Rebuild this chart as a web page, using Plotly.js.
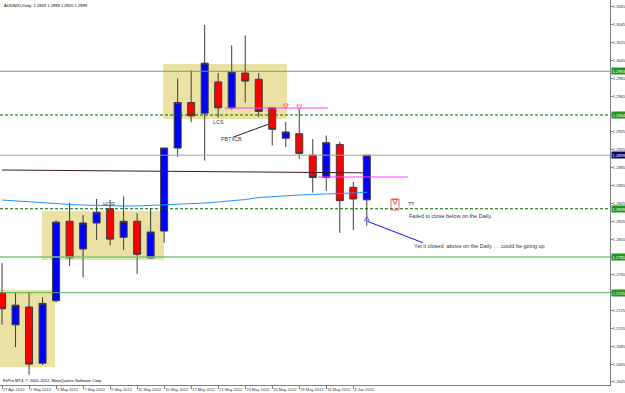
<!DOCTYPE html>
<html><head><meta charset="utf-8">
<script src="https://cdn.plot.ly/plotly-3.0.1.min.js"></script>
<style>html,body{margin:0;padding:0;background:#fff}#chart{width:625px;height:393px}</style>
</head><body><div id="chart"></div>
<script>
const dates = ['27 Apr 2012','30 Apr 2012','1 May 2012','2 May 2012','3 May 2012','4 May 2012','7 May 2012','8 May 2012','9 May 2012','10 May 2012','11 May 2012','14 May 2012','15 May 2012','16 May 2012','17 May 2012','18 May 2012','21 May 2012','22 May 2012','23 May 2012','24 May 2012','25 May 2012','28 May 2012','29 May 2012','30 May 2012','31 May 2012','1 Jun 2012','4 Jun 2012','5 Jun 2012'];
const openP  = [1.2745,1.2709,1.2729,1.2666,1.2736,1.2825,1.2794,1.2823,1.2839,1.2807,1.2825,1.2784,1.2814,1.2907,1.2958,1.2946,1.2981,1.2952,1.2991,1.2984,1.2952,1.2918,1.2923,1.2899,1.2874,1.2911,1.2863,1.2849];
const highP  = [1.2778,1.2745,1.2745,1.2740,1.2826,1.2846,1.2832,1.2850,1.2849,1.2853,1.2834,1.2840,1.2907,1.2985,1.2994,1.3045,1.2991,1.3022,1.3033,1.2991,1.2953,1.2936,1.2950,1.2917,1.2921,1.2914,1.2869,1.2899];
const lowP   = [1.2709,1.2684,1.2653,1.2664,1.2734,1.2775,1.2762,1.2804,1.2798,1.2793,1.2766,1.2783,1.2801,1.2897,1.2936,1.2893,1.2941,1.2950,1.2958,1.2942,1.2910,1.2908,1.2895,1.2857,1.2859,1.2812,1.2815,1.2820];
const closeP = [1.2727,1.2731,1.2665,1.2733,1.2824,1.2784,1.2823,1.2835,1.2805,1.2825,1.2788,1.2813,1.2907,1.2958,1.2943,1.3002,1.2952,1.2992,1.2982,1.2948,1.2928,1.2925,1.2901,1.2874,1.2913,1.2848,1.2850,1.2899];
const blueMA = [1.28488,1.28477,1.28466,1.28454,1.28443,1.28438,1.28432,1.28426,1.28426,1.28421,1.28421,1.28426,1.28432,1.28438,1.28443,1.28454,1.28466,1.28477,1.28493,1.28516,1.28527,1.28533,1.28544,1.28550,1.28555,1.28561,1.28566,1.28572];
const darkMA = [1.28824,1.28823,1.28822,1.28821,1.28820,1.28818,1.28817,1.28816,1.28815,1.28814,1.28813,1.28812,1.28811,1.28810,1.28809,1.28807,1.28806,1.28805,1.28804,1.28803,1.28802,1.28801,1.28800,1.28799,1.28798,1.28796,1.28794,1.28792];
const xTickLabels = ['27 Apr 2012','1 May 2012','3 May 2012','7 May 2012','9 May 2012','11 May 2012','15 May 2012','17 May 2012','21 May 2012','23 May 2012','25 May 2012','29 May 2012','31 May 2012','4 Jun 2012'];
const yTicks = [1.2645,1.2665,1.2685,1.2705,1.2725,1.2745,1.2765,1.2785,1.2805,1.2825,1.2845,1.2865,1.2885,1.2905,1.2925,1.2945,1.2965,1.2985,1.3005,1.3025,1.3045,1.3065];
const levelPrices = [1.2993,1.2944,1.2899,1.2839,1.2785,1.2745];
const levelLabels = ['1.2993','1.2944','1.2899','1.2839','1.2785','1.2745'];
const levelColors = ['#5cae5c','#006400','#a0a0a0','#006400','#7cc47c','#5cae5c'];
const levelDash = ['solid','3px,2px','solid','3px,2px','solid','solid'];
const levelWidth = [1,1,1,1,1.5,1];
const labelBg = ['#1f961f','#1f961f','#0a0a6e','#1f961f','#1f961f','#1f961f'];
// zone boxes: [x0 idx, x1 idx, low, high]
const zones = [[-0.15,3.92,1.26618,1.27480],[2.96,11.99,1.27816,1.28365],[11.92,21.09,1.29395,1.30011]];
// horizontal pink segments: [x0 idx, x1 idx, price]
const pinkSegs = [[16.50,24.13,1.29518],[23.39,30.05,1.28746]];
// arrow objects: bar position, price
const downArrowX = [21, 22, 29.09];
const downArrowY = [1.29507, 1.29495, 1.28438];
const downArrowColor = ['#ff7080','#ff7080','#ff4040'];
const upArrowX = [27];
const upArrowY = [1.28309];
const FONT = 'Liberation Sans, Arial, sans-serif';

const traces = [
  {type:'scatter', mode:'lines', x:dates, y:darkMA, line:{color:'#3a1c1c', width:1}, hoverinfo:'skip'},
  {type:'scatter', mode:'lines', x:dates, y:blueMA, line:{color:'#1e90ff', width:1}, hoverinfo:'skip'},
  {type:'candlestick', x:dates, open:openP, high:highP, low:lowP, close:closeP,
   increasing:{line:{color:'#3c3c3c', width:1}, fillcolor:'#0000ff'},
   decreasing:{line:{color:'#3c3c3c', width:1}, fillcolor:'#ff0000'},
   whiskerwidth:0, hoverinfo:'skip'},
  {type:'scatter', mode:'markers', xaxis:'x2', x:downArrowX, y:downArrowY,
   marker:{symbol:'arrow-down-open', size:5, color:downArrowColor, line:{width:1, color:downArrowColor}}, hoverinfo:'skip'},
  {type:'scatter', mode:'markers', xaxis:'x2', x:upArrowX, y:upArrowY,
   marker:{symbol:'arrow-up-open', size:5, color:'#6a6aff', line:{width:1, color:'#6a6aff'}}, hoverinfo:'skip'}
];

const shapes = [];
zones.forEach(z => shapes.push({type:'rect', xref:'x', yref:'y', x0:z[0], x1:z[1], y0:z[2], y1:z[3],
  fillcolor:'#ebe1a2', line:{width:0}, layer:'below'}));
levelPrices.forEach((p,i) => shapes.push({type:'line', xref:'paper', yref:'y', x0:0, x1:1, y0:p, y1:p,
  line:{color:levelColors[i], width:levelWidth[i], dash:levelDash[i]}, layer:'above'}));
pinkSegs.forEach(s => shapes.push({type:'line', xref:'x', yref:'y', x0:s[0], x1:s[1], y0:s[2], y1:s[2],
  line:{color:'#ff40ff', width:1}}));
shapes.push({type:'line', xref:'x', yref:'y', x0:17.07, y0:1.29190, x1:19.71, y1:1.29336, line:{color:'#202020', width:1}});
shapes.push({type:'line', xref:'x', yref:'y', x0:27.11, y0:1.28245, x1:31.14, y1:1.28010, line:{color:'#1010ff', width:1}});
shapes.push({type:'rect', xref:'x', yref:'y', x0:28.79, x1:29.38, y0:1.28376, y1:1.28499, line:{color:'#ff6060', width:1}, fillcolor:'rgba(0,0,0,0)', layer:'below'});

const ann = [];
levelPrices.forEach((p,i) => ann.push({xref:'paper', yref:'y', x:1, y:p, xanchor:'left', yanchor:'middle', xshift:0.5,
  text:levelLabels[i], showarrow:false, bgcolor:labelBg[i], borderpad:0.5, font:{family:FONT, size:4.1, color:'#ffffff'}}));
const txt = (x,y,t,opt={}) => Object.assign({xref:'x', yref:'y', x:x, y:y, text:t, showarrow:false,
  font:{family:FONT, size:5.5, color:'#333333'}}, opt);
ann.push(txt(7.94,1.28443,'HCR',{font:{family:FONT,size:5.6,color:'#505050'}}));
ann.push(txt(15.99,1.29362,'LCS',{font:{family:FONT,size:5.4,color:'#404040'}}));
ann.push(txt(16.95,1.29168,'PBTxCB',{font:{family:FONT,size:5.4,color:'#404040'}}));
ann.push(txt(29.88,1.28440,'??',{xanchor:'left'}));
ann.push(txt(29.98,1.28309,'Failed to close below on the Daily.',{xanchor:'left'}));
ann.push(txt(30.35,1.27973,'Yet it closed&nbsp;&nbsp;above on the Daily . . .could be going up',{xanchor:'left'}));
ann.push({xref:'paper', yref:'paper', x:0, y:1, xanchor:'left', yanchor:'top', xshift:2, yshift:-1, showarrow:false,
  text:'AUDNZD,Daily&nbsp;&nbsp;1.2849 1.2899 1.2820 1.2899', font:{family:FONT, size:4.1, color:'#000000'}});
ann.push({xref:'paper', yref:'paper', x:0, y:0, xanchor:'left', yanchor:'bottom', xshift:1, yshift:0, showarrow:false,
  text:'FxPro MT4, © 2001-2012, MetaQuotes Software Corp.', font:{family:FONT, size:4.1, color:'#000000'}});

const layout = {
  width:625, height:393, margin:{l:0, r:15, t:0, b:8, pad:0},
  paper_bgcolor:'#ffffff', plot_bgcolor:'#ffffff', showlegend:false, boxgap:0.26,
  font:{family:FONT, size:4.1, color:'#333333'},
  xaxis:{type:'category', range:[-0.15,45], showline:true, linecolor:'#808080', linewidth:1, mirror:true,
    ticks:'outside', ticklen:3, tickcolor:'#808080', tickvals:xTickLabels, ticktext:xTickLabels, tickangle:0,
    ticklabelposition:'outside right', tickfont:{family:FONT, size:4, color:'#333333'},
    showgrid:false, zeroline:false, rangeslider:{visible:false}, fixedrange:true, automargin:false},
  xaxis2:{type:'linear', overlaying:'x', range:[-0.15,45], visible:false, fixedrange:true},
  yaxis:{side:'right', range:[1.26416,1.30728], showline:true, linecolor:'#808080', linewidth:1, mirror:true,
    ticks:'outside', ticklen:2, tickcolor:'#808080', tickvals:yTicks, tickformat:'.4f', ticklabelstandoff:-1,
    tickfont:{family:FONT, size:4.1, color:'#333333'}, showgrid:false, zeroline:false, fixedrange:true, automargin:false},
  shapes:shapes, annotations:ann
};
Plotly.newPlot('chart', traces, layout, {staticPlot:true, displayModeBar:false});
</script>
</body></html>
